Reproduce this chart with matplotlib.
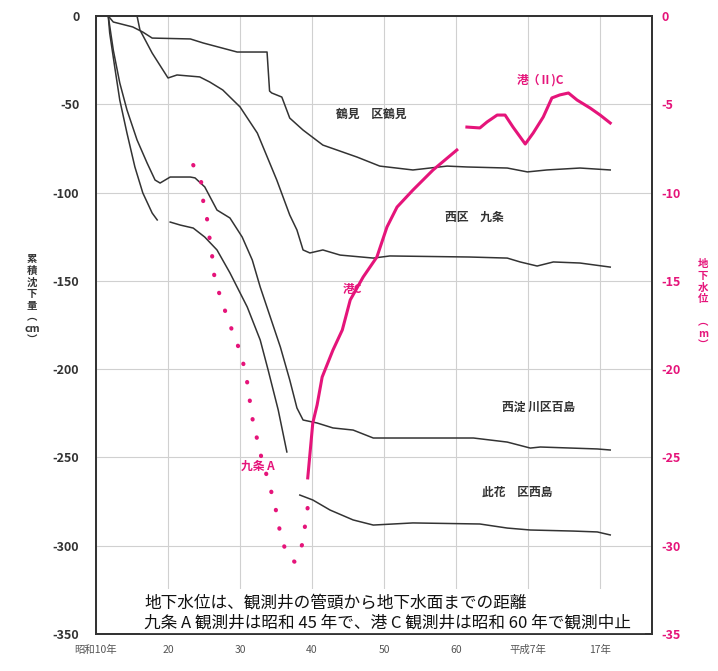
import matplotlib
matplotlib.use("Agg")
import matplotlib.pyplot as plt
from matplotlib.patches import Rectangle

plt.rcParams['font.family'] = ['Noto Sans CJK JP', 'DejaVu Sans']
plt.rcParams['axes.unicode_minus'] = False

# ---- data: cumulative subsidence (cm) ----
tsurumi_x = [1936.7, 1937.4, 1940.1, 1941.5, 1942.8, 1948.1, 1949.9, 1954.6, 1958.75, 1959.1, 1959.4,
             1960.8, 1961.9, 1963.75, 1966.5, 1971.25, 1974.4, 1979.0, 1983.75, 1986.5, 1992.1,
             1994.9, 1997.6, 2002.2, 2006.4]
tsurumi_y = [0, -3.4, -6.2, -9.1, -12.5, -13.0, -15.3, -20.4, -20.4, -42.5, -43.6,
             -45.9, -57.8, -64.6, -73.1, -79.9, -85.0, -87.2, -85.0, -85.5, -86.1,
             -88.3, -87.2, -86.1, -87.2]

kujo_x = [1940.7, 1941.1, 1942.8, 1945.0, 1946.25, 1949.4, 1950.8, 1952.6, 1955.0, 1957.4, 1960.1,
          1961.9, 1962.9, 1963.75, 1964.7, 1966.5, 1968.9, 1973.5, 1975.8, 1986.9, 1992.1,
          1993.9, 1996.25, 1998.5, 2002.2, 2006.4]
kujo_y = [0, -7.9, -21.0, -35.1, -33.4, -34.5, -37.4, -41.9, -51.5, -66.3, -92.9,
          -112.7, -121.2, -132.5, -134.2, -132.5, -135.4, -137.1, -135.9, -136.5, -137.1,
          -139.3, -141.6, -139.3, -139.9, -142.2]

momoshima_x = [1936.7, 1937.4, 1938.3, 1939.3, 1940.7, 1942.1, 1943.2, 1943.9, 1945.3, 1948.1, 1948.75,
               1950.1, 1951.8, 1953.6, 1955.3, 1956.7, 1957.8, 1959.2, 1960.6, 1961.9, 1962.9,
               1963.75, 1965.7, 1967.9, 1970.7, 1973.5, 1975.4, 1982.8, 1987.4, 1992.1, 1995.3,
               1996.7, 2004.6, 2006.4]
momoshima_y = [0, -19.3, -37.9, -53.2, -70.2, -83.3, -92.9, -94.6, -91.2, -91.2, -91.7,
               -96.8, -109.9, -114.4, -125.2, -138.2, -153.5, -170.5, -187.5, -206.1, -222.0,
               -228.8, -230.5, -233.3, -234.5, -239.0, -239.0, -239.0, -239.0, -241.3, -244.7,
               -244.1, -245.2, -245.8]

nishijima1_x = [1936.7, 1936.9, 1937.6, 1938.3, 1939.3, 1940.4, 1941.5, 1942.8, 1943.5]
nishijima1_y = [0, -9.6, -28.9, -47.6, -66.3, -85.5, -100.2, -111.6, -115.5]

nishijima2_x = [1945.3, 1946.7, 1948.5, 1950.1, 1951.8, 1953.6, 1956.0, 1957.8, 1958.9, 1960.3, 1961.5]
nishijima2_y = [-116.7, -118.4, -120.1, -125.2, -132.5, -145.5, -164.8, -183.5, -200.5, -223.1, -246.9]

nishijima3_x = [1963.3, 1965.1, 1967.5, 1970.7, 1973.5, 1979.0, 1988.3, 1992.1, 1995.3, 2001.25,
                2004.6, 2006.4]
nishijima3_y = [-271.3, -274.1, -279.8, -285.4, -288.3, -287.1, -287.7, -290.0, -291.1, -291.7,
                -292.2, -293.9]

# ---- data: groundwater level (m) ----
kujoA_x = [1948.5, 1949.6, 1949.9, 1950.4, 1950.7, 1951.1, 1951.25, 1951.8, 1952.6, 1953.3, 1954.3,
           1955.0, 1955.7, 1956.1, 1956.4, 1956.8, 1957.4, 1957.8, 1959.2, 1959.9, 1960.3,
           1960.8, 1961.7, 1962.6, 1963.6, 1964.0, 1964.4, 1964.7]
kujoA_y = [-8.44, -9.40, -10.53, -11.44, -12.40, -13.42, -14.38, -15.35, -16.25, -17.22, -18.18,
           -19.03, -20.05, -21.01, -21.92, -22.99, -24.01, -24.75, -26.73, -27.81, -28.71,
           -29.68, -30.64, -30.92, -29.96, -28.94, -27.81, -26.84]

minatoC_x = [1964.4, 1965.1, 1965.7, 1966.4, 1967.9, 1969.2, 1970.3, 1972.1, 1974.0, 1975.4, 1976.8,
             1979.0, 1981.8, 1985.1]
minatoC_y = [-26.16, -23.05, -22.03, -20.45, -18.92, -17.78, -16.08, -14.78, -13.65, -11.95, -10.82,
             -9.86, -8.72, -7.59]

minato2C_x = [1986.5, 1988.3, 1989.3, 1990.7, 1991.8, 1992.9, 1994.6, 1995.7, 1997.1, 1998.3,
              1999.4, 2000.6, 2001.8, 2003.6, 2005.0, 2006.4]
minato2C_y = [-6.29, -6.34, -6.00, -5.61, -5.61, -6.29, -7.25, -6.63, -5.72, -4.64,
              -4.47, -4.36, -4.76, -5.21, -5.61, -6.06]

x_ticks = [1935, 1945, 1955, 1965, 1975, 1985, 1995, 2005]
x_labels = ['昭和10年', '20', '30', '40', '50', '60', '平成7年', '17年']
left_ticks = [0, -50, -100, -150, -200, -250, -300, -350]
right_ticks = [0, -5, -10, -15, -20, -25, -30, -35]

BLACK = '#333333'
MAG = '#e5147a'

fig = plt.figure(figsize=(7.18, 6.71), dpi=100)
ax = fig.add_axes([96/718, 1-634/671, (652-96)/718, (634-16)/671])
ax2 = ax.twinx()

ax.set_xlim(1935, 2012.2)
ax.set_ylim(-350, 0)
ax2.set_ylim(-35, 0)

ax.set_xticks(x_ticks)
ax.set_xticklabels(x_labels, fontsize=7.5, color='#555555')
ax.set_yticks(left_ticks)
ax.set_yticklabels([str(v) for v in left_ticks], fontsize=9, color='#333333', fontweight='bold')
ax2.set_yticks(right_ticks)
ax2.set_yticklabels([str(v) for v in right_ticks], fontsize=9, color=MAG, fontweight='bold')
ax.tick_params(axis='both', length=0)
ax.tick_params(axis='y', pad=12)
ax.tick_params(axis='x', pad=8)
ax2.tick_params(axis='y', length=0, pad=7)

ax.grid(True, color='#d0d0d0', linewidth=0.8)
ax.set_axisbelow(True)
for a in (ax, ax2):
    for s in a.spines.values():
        s.set_color('#333333')
        s.set_linewidth(1.3)

lw = 1.1
for xs, ys in [(tsurumi_x, tsurumi_y), (kujo_x, kujo_y), (momoshima_x, momoshima_y),
               (nishijima1_x, nishijima1_y), (nishijima2_x, nishijima2_y), (nishijima3_x, nishijima3_y)]:
    ax.plot(xs, ys, color=BLACK, linewidth=lw)

ax2.plot(kujoA_x, kujoA_y, color=MAG, linewidth=3, linestyle=(0, (0.1, 4.4)),
         dash_capstyle='round')
ax2.plot(minatoC_x, minatoC_y, color=MAG, linewidth=2.2, solid_joinstyle='round')
ax2.plot(minato2C_x, minato2C_y, color=MAG, linewidth=2.2, solid_joinstyle='round')

lab_kw = dict(fontsize=8.5, fontweight='bold', ha='center', va='center')
ax.text(1973.2, -55.5, '鶴見　区鶴見', color=BLACK, **lab_kw)
ax.text(1987.6, -113.8, '西区　九条', color=BLACK, **lab_kw)
ax.text(1996.4, -221.4, '西淀 川区百島', color=BLACK, **lab_kw)
ax.text(1993.5, -270.0, '此花　区西島', color=BLACK, **lab_kw)
ax.text(1996.7, -36.2, '港（Ⅱ)C', color=MAG, **lab_kw)
ax.text(1970.6, -155.0, '港C', color=MAG, **lab_kw)
ax.text(1957.5, -255.0, '九条 A', color=MAG, **lab_kw)

# note box
ax.add_patch(Rectangle((1941.1, -350), 2011.25 - 1941.1, 25.4, facecolor='white',
                       edgecolor='none', zorder=3))
ax.text(1941.7, -332.4, '地下水位は、観測井の管頭から地下水面までの距離', fontsize=12,
        ha='left', va='center', color='#111111', zorder=4)
ax.text(1941.7, -343.7, '九条 A 観測井は昭和 45 年で、港 C 観測井は昭和 60 年で観測中止', fontsize=12,
        ha='left', va='center', color='#111111', zorder=4)

# vertical axis titles (stacked characters)
fig.text(32/718, 1-300/671, '\n'.join(['累', '積', '沈', '下', '量', '︵', 'cm', '︶']),
         fontsize=7.5, fontweight='bold', ha='center', va='center', color='#333333', linespacing=1.2)
fig.text(703/718, 1-305/671, '\n'.join(['地', '下', '水', '位', '', '︵', 'm', '︶']),
         fontsize=7.5, fontweight='bold', ha='center', va='center', color=MAG, linespacing=1.2)

fig.savefig('out.png', dpi=100)
